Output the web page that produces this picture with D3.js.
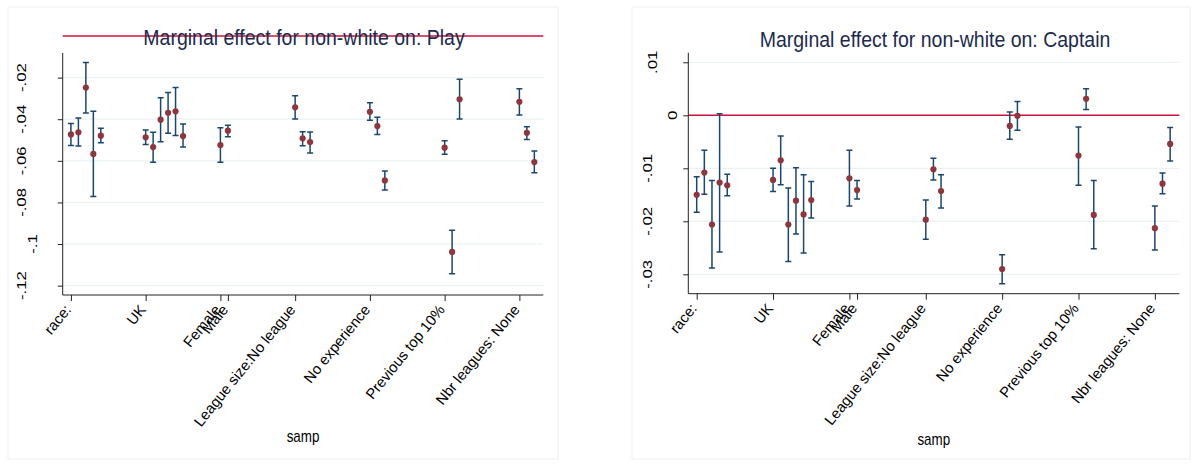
<!DOCTYPE html>
<html>
<head>
<meta charset="utf-8">
<script src="https://cdn.jsdelivr.net/npm/d3@7"></script>
<style>
  html, body { margin: 0; padding: 0; background: #ffffff; }
  svg { display: block; }
  text { font-family: "Liberation Sans", Arial, Helvetica, sans-serif; }
</style>
</head>
<body>
<svg id="chart" width="1193" height="466"></svg>
<script>
// Category ticks on the "samp" axis
const tickValues = [1, 11, 21, 22, 31, 41, 51, 61];
const tickLabels = ["race:", "UK", "Female", "Male", "League size:No league",
                    "No experience", "Previous top 10%", "Nbr leagues: None"];

// Sample index of every estimate
const samp = [1, 2, 3, 4, 5, 11, 12, 13, 14, 15, 16, 21, 22, 31, 32, 33,
              41, 42, 43, 51, 52, 53, 61, 62, 63];

// Marginal effect on Play: estimate and 95% CI
const playEst = [-0.0473, -0.0463, -0.0248, -0.0567, -0.0479, -0.0487, -0.0534, -0.0402, -0.0369,
                 -0.0362, -0.0481, -0.0524, -0.0455, -0.0343, -0.0492, -0.0510, -0.0364, -0.0433,
                 -0.0694, -0.0537, -0.1038, -0.0304, -0.0316, -0.0465, -0.0606];
const playLo  = [-0.0526, -0.0529, -0.0370, -0.0772, -0.0513, -0.0522, -0.0607, -0.0508, -0.0468,
                 -0.0478, -0.0534, -0.0607, -0.0484, -0.0399, -0.0527, -0.0563, -0.0405, -0.0473,
                 -0.0740, -0.0569, -0.1143, -0.0399, -0.0380, -0.0497, -0.0657];
const playHi  = [-0.0421, -0.0394, -0.0127, -0.0362, -0.0444, -0.0452, -0.0463, -0.0297, -0.0271,
                 -0.0248, -0.0423, -0.0441, -0.0429, -0.0287, -0.0460, -0.0462, -0.0321, -0.0391,
                 -0.0649, -0.0503, -0.0934, -0.0208, -0.0253, -0.0436, -0.0553];
const playTicks = [-0.02, -0.04, -0.06, -0.08, -0.1, -0.12];
const playTickText = ["-.02", "-.04", "-.06", "-.08", "-.1", "-.12"];

// Marginal effect on Captain: estimate and 95% CI
const capEst = [-0.0150, -0.0108, -0.0206, -0.0127, -0.0132, -0.0122, -0.0085, -0.0206, -0.0161,
                -0.0187, -0.0160, -0.0119, -0.0141, -0.0197, -0.0102, -0.0143, -0.0290, -0.0020,
                -0.0001, -0.0076, 0.0031, -0.0188, -0.0213, -0.0129, -0.0054];
const capLo  = [-0.0183, -0.0149, -0.0288, -0.0258, -0.0152, -0.0144, -0.0131, -0.0276, -0.0224,
                -0.0260, -0.0194, -0.0171, -0.0158, -0.0234, -0.0122, -0.0175, -0.0318, -0.0045,
                -0.0028, -0.0132, 0.0011, -0.0252, -0.0254, -0.0148, -0.0086];
const capHi  = [-0.0116, -0.0066, -0.0123, 0.0003, -0.0111, -0.0100, -0.0039, -0.0137, -0.0099,
                -0.0112, -0.0125, -0.0066, -0.0123, -0.0160, -0.0081, -0.0112, -0.0263, 0.0006,
                0.0026, -0.0022, 0.0050, -0.0123, -0.0171, -0.0109, -0.0023];
const capTicks = [0.01, 0, -0.01, -0.02, -0.03];
const capTickText = [".01", "0", "-.01", "-.02", "-.03"];

const svg = d3.select("#chart");

const C = {
  grid: "#eaf2f3",
  bar: "#1a476f",
  dot: "#90353b",
  ref: "#d0103a",
  title: "#1c2b4f",
  axis: "#222222",
  frame: "#eeeeee"
};
const STRETCH = 1.25;   // vertical text stretch
const tickFont = 13.4;

function panel(cfg) {
  const g = svg.append("g");

  g.append("rect")
    .attr("x", cfg.frame[0]).attr("y", cfg.frame[1])
    .attr("width", cfg.frame[2]).attr("height", cfg.frame[3])
    .attr("fill", "#ffffff").attr("stroke", C.frame).attr("stroke-width", 1);

  const x = d3.scaleLinear().domain([-0.1, 64.2]).range([cfg.left, cfg.right]);
  const y = d3.scaleLinear().domain(cfg.yDomain).range([cfg.bottom, cfg.top]);

  // gridlines
  g.append("g").selectAll("line").data(cfg.ticks).join("line")
    .attr("x1", cfg.left).attr("x2", cfg.right)
    .attr("y1", d => y(d)).attr("y2", d => y(d))
    .attr("stroke", C.grid).attr("stroke-width", 1.2);

  // reference line at zero
  g.append("line")
    .attr("x1", cfg.left).attr("x2", cfg.right)
    .attr("y1", y(0)).attr("y2", y(0))
    .attr("stroke", C.ref).attr("stroke-width", 1.5);

  // title
  g.append("text")
    .attr("transform", `translate(${cfg.titleX},${cfg.titleY}) scale(1,1.12)`)
    .attr("text-anchor", "middle")
    .attr("font-size", 19.5)
    .attr("fill", C.title)
    .text(cfg.title);

  // y axis
  const yAxis = d3.axisLeft(y).tickValues(cfg.ticks).tickSize(5).tickFormat("");
  const ya = g.append("g").attr("transform", `translate(${cfg.left},0)`).call(yAxis);
  ya.select(".domain").attr("d", `M0,${cfg.top}V${cfg.bottom}`).attr("stroke", C.axis);
  ya.selectAll(".tick line").attr("stroke", C.axis);

  // rotated y tick labels
  const yl = g.append("g");
  cfg.ticks.forEach((t, i) => {
    const txt = yl.append("text")
      .attr("font-size", tickFont)
      .attr("text-anchor", "middle")
      .attr("fill", "#000")
      .text(cfg.tickText[i]);
    const L = txt.node().getComputedTextLength();
    const off = Math.min(36.5, 1.77 * L - 1.9);
    txt.attr("transform", `translate(${cfg.left - off},${y(t)}) scale(1,${STRETCH}) rotate(-90)`);
  });

  // x axis
  const xAxis = d3.axisBottom(x).tickValues(tickValues).tickSize(6).tickFormat("");
  const xa = g.append("g").attr("transform", `translate(0,${cfg.bottom})`).call(xAxis);
  xa.select(".domain").attr("d", `M${cfg.left},0H${cfg.right}`).attr("stroke", C.axis);
  xa.selectAll(".tick line").attr("stroke", C.axis);

  g.append("g").selectAll("text").data(tickValues).join("text")
    .attr("transform", d => `translate(${x(d) + 1},${cfg.bottom + 15}) rotate(-51)`)
    .attr("text-anchor", "end")
    .attr("font-size", 14.8)
    .attr("fill", "#000")
    .text((d, i) => tickLabels[i]);

  // x axis title
  g.append("text")
    .attr("transform", `translate(${(cfg.left + cfg.right) / 2},${cfg.sampY}) scale(1,${STRETCH})`)
    .attr("text-anchor", "middle")
    .attr("font-size", 13.4)
    .attr("fill", "#000")
    .text("samp");

  // confidence intervals
  const rows = samp.map((s, i) => ({ s, est: cfg.est[i], lo: cfg.lo[i], hi: cfg.hi[i] }));
  const ci = g.append("g").attr("stroke", C.bar).attr("stroke-width", 1.5).attr("fill", "none");
  ci.selectAll("path").data(rows).join("path")
    .attr("d", d => {
      const cx = x(d.s), y1 = y(d.hi), y2 = y(d.lo), w = 3;
      return `M${cx},${y1}V${y2}M${cx - w},${y1}H${cx + w}M${cx - w},${y2}H${cx + w}`;
    });

  // point estimates
  g.append("g").selectAll("circle").data(rows).join("circle")
    .attr("cx", d => x(d.s)).attr("cy", d => y(d.est)).attr("r", 3.1)
    .attr("fill", C.dot);
}

panel({
  frame: [8, 7, 550, 452],
  left: 62.7, right: 543.3, top: 53, bottom: 295,
  yDomain: [-0.1245, -0.00817],
  ticks: playTicks, tickText: playTickText,
  est: playEst, lo: playLo, hi: playHi,
  title: "Marginal effect for non-white on: Play",
  titleX: 304, titleY: 45, sampY: 442
});

panel({
  frame: [632, 7, 558, 452],
  left: 688.3, right: 1179.3, top: 52.7, bottom: 293.7,
  yDomain: [-0.03366, 0.01181],
  ticks: capTicks, tickText: capTickText,
  est: capEst, lo: capLo, hi: capHi,
  title: "Marginal effect for non-white on: Captain",
  titleX: 935, titleY: 46.5, sampY: 445
});
</script>
</body>
</html>
